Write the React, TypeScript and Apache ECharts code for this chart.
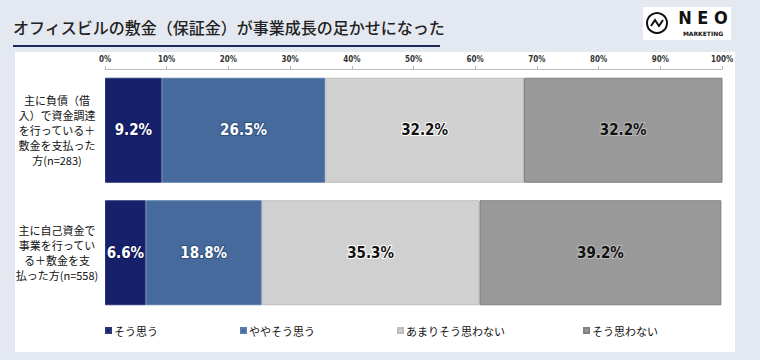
import React, { useEffect, useRef } from "react";
import * as echarts from "echarts";

const categories = [
  "主に負債（借\n入）で資金調達\nを行っている＋\n敷金を支払った\n方(n=283)",
  "主に自己資金で\n事業を行ってい\nる＋敷金を支\n払った方(n=558)",
];
const seriesNames = ["そう思う", "ややそう思う", "あまりそう思わない", "そう思わない"];
const soOmou = [9.2, 6.6];
const yayaSoOmou = [26.5, 18.8];
const amariSoOmowanai = [32.2, 35.3];
const soOmowanai = [32.2, 39.2];
const xTicks = [0, 10, 20, 30, 40, 50, 60, 70, 80, 90, 100];

const colors = ["#17216b", "#466a9b", "#d0d0d0", "#999999"];
const borders = ["#2a357a", "#5a7cab", "#bdbdbd", "#7f7f7f"];
const labelColors = ["#ffffff", "#ffffff", "#111111", "#111111"];
const labelBorders = ["#10185a", "#2e4f7f", "#ffffff", "#bbbbbb"];
const legendLefts = [100, 235, 392, 578];

export default function App() {
  const ref = useRef<HTMLDivElement>(null);
  useEffect(() => {
    if (!ref.current) return;
    const chart = echarts.init(ref.current, undefined, { renderer: "svg" });
    const values = [soOmou, yayaSoOmou, amariSoOmowanai, soOmowanai];
    const condensed = "'DejaVu Sans Condensed', 'Liberation Sans Narrow', sans-serif";
    chart.setOption({
      animation: false,
      backgroundColor: "#e4e9f1",
      graphic: [
        { type: "rect", shape: { x: 15, y: 52, width: 720, height: 300 }, style: { fill: "#ffffff" }, z: -10 },
        {
          type: "text", x: 13, y: 27,
          style: { text: "オフィスビルの敷金（保証金）が事業成長の足かせになった", fill: "#222222", font: "500 16px 'Noto Sans CJK JP', sans-serif", verticalAlign: "middle" },
        },
        { type: "rect", shape: { x: 13, y: 45, width: 427, height: 2 }, style: { fill: "#1f2a5c" } },
        { type: "rect", shape: { x: 643, y: 7, width: 88, height: 33 }, style: { fill: "#ffffff" } },
        { type: "circle", shape: { cx: 657, cy: 23, r: 10 }, style: { fill: "none", stroke: "#111111", lineWidth: 2 } },
        { type: "polyline", shape: { points: [[651, 26], [655, 20], [659, 26], [663, 20]] }, style: { fill: "none", stroke: "#111111", lineWidth: 2 } },
        { type: "text", x: 703, y: 17, style: { text: "N E O", fill: "#111111", font: "bold 18px 'DejaVu Sans Condensed', sans-serif", align: "center", verticalAlign: "middle" } },
        { type: "text", x: 703, y: 33, style: { text: "MARKETING", fill: "#111111", font: "bold 6px 'DejaVu Sans', sans-serif", align: "center", verticalAlign: "middle" } },
      ],
      grid: { left: 105, right: 38, top: 69, bottom: 46 },
      xAxis: {
        type: "value", position: "top", min: 0, max: 100, interval: 10,
        axisLine: { show: true, lineStyle: { color: "#bbbbbb" } },
        axisTick: { show: true, length: 3, lineStyle: { color: "#bbbbbb" } },
        splitLine: { show: false },
        axisLabel: { formatter: "{value}%", fontSize: 8, fontWeight: "bold", color: "#333333", margin: 6, fontFamily: condensed },
        data: xTicks,
      },
      yAxis: {
        type: "category", inverse: true, data: categories,
        axisLine: { show: false }, axisTick: { show: false },
        axisLabel: { align: "center", margin: 48, fontSize: 11, lineHeight: 15, color: "#111111", fontFamily: "'Noto Sans CJK JP', sans-serif" },
      },
      legend: legendLefts.map((l, i) => ({
        data: [seriesNames[i]], left: l, top: 320, itemWidth: 5, itemHeight: 5, itemGap: 3,
        icon: "rect", textStyle: { fontSize: 11, color: "#111111", fontFamily: "'Noto Sans CJK JP', sans-serif", padding: [0, 0, 0, -2] },
      })),
      series: values.map((v, i) => ({
        name: seriesNames[i], type: "bar", stack: "total", data: v, barWidth: 105,
        itemStyle: { color: colors[i], borderColor: borders[i], borderWidth: 1 },
        label: {
          show: true, position: "inside", formatter: (p: any) => p.value.toFixed(1) + "%",
          color: labelColors[i], fontSize: 15, fontWeight: "bold", fontFamily: condensed,
          textBorderColor: labelBorders[i], textBorderWidth: 2,
        },
      })),
    });
    return () => chart.dispose();
  }, []);
  return <div ref={ref} style={{ position: "absolute", left: 0, top: 0, width: 760, height: 360 }} />;
}
